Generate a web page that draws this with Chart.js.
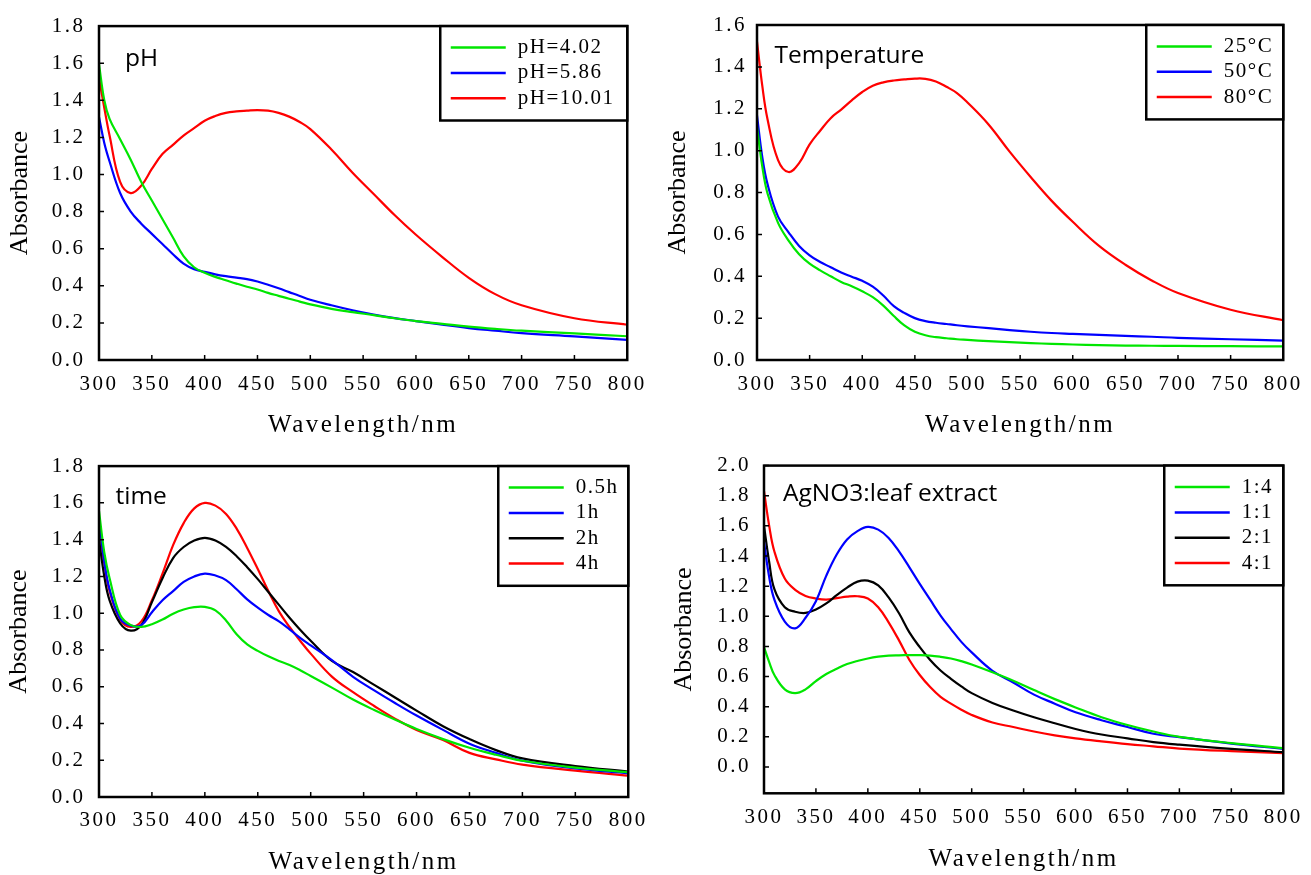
<!DOCTYPE html>
<html>
<head>
<meta charset="utf-8">
<script src="https://cdn.jsdelivr.net/npm/chart.js@4.4.1/dist/chart.umd.min.js"></script>
<style>
  html, body { margin: 0; padding: 0; background: #fff; }
  #wrap { position: relative; width: 1311px; height: 875px; overflow: hidden; background: #fff; }
  canvas { position: absolute; }
</style>
</head>
<body>
<div id="wrap">
  <canvas id="phChart" width="655" height="440" style="left:0px;top:0px"></canvas>
  <canvas id="tempChart" width="656" height="440" style="left:655px;top:0px"></canvas>
  <canvas id="timeChart" width="655" height="435" style="left:0px;top:440px"></canvas>
  <canvas id="ratioChart" width="656" height="435" style="left:655px;top:440px"></canvas>
</div>
<script>
// wavelength grid (nm) shared by every curve
const wavelengths = [300,305,310,320,330,340,350,360,370,380,390,400,410,420,430,440,450,460,470,480,490,500,520,540,560,580,600,625,650,675,700,750,800];

// tick labels
const xTicks = [300,350,400,450,500,550,600,650,700,750,800];
const yTicks18 = [0,0.2,0.4,0.6,0.8,1.0,1.2,1.4,1.6,1.8];
const yTicks16 = [0,0.2,0.4,0.6,0.8,1.0,1.2,1.4,1.6];
const yTicks20 = [0,0.2,0.4,0.6,0.8,1.0,1.2,1.4,1.6,1.8,2.0];

// pH panel
const phLabels = ['pH=4.02', 'pH=5.86', 'pH=10.01'];
const ph402  = [1.595,1.40,1.30,1.19,1.08,0.96,0.86,0.76,0.66,0.56,0.50,0.47,0.448,0.43,0.412,0.395,0.38,0.362,0.346,0.33,0.315,0.30,0.276,0.258,0.242,0.225,0.21,0.195,0.18,0.168,0.158,0.143,0.128];
const ph586  = [1.31,1.17,1.07,0.90,0.80,0.735,0.68,0.625,0.57,0.52,0.49,0.475,0.462,0.452,0.444,0.436,0.423,0.406,0.387,0.366,0.345,0.325,0.295,0.268,0.245,0.226,0.21,0.19,0.172,0.158,0.145,0.127,0.108];
const ph1001 = [1.52,1.36,1.21,0.96,0.90,0.94,1.03,1.11,1.16,1.21,1.25,1.29,1.315,1.332,1.34,1.344,1.347,1.344,1.332,1.312,1.283,1.245,1.135,1.01,0.895,0.78,0.675,0.555,0.443,0.355,0.295,0.225,0.19];

// temperature panel
const tempLabels = ['25\u00B0C', '50\u00B0C', '80\u00B0C'];
const t25 = [1.112,0.925,0.795,0.655,0.57,0.505,0.46,0.428,0.40,0.373,0.352,0.328,0.30,0.26,0.21,0.165,0.135,0.118,0.109,0.104,0.099,0.096,0.09,0.085,0.081,0.077,0.074,0.071,0.069,0.068,0.067,0.066,0.065];
const t50 = [1.168,0.97,0.84,0.685,0.61,0.545,0.50,0.468,0.443,0.418,0.398,0.378,0.35,0.308,0.257,0.225,0.2,0.186,0.178,0.172,0.166,0.161,0.152,0.143,0.135,0.129,0.125,0.12,0.115,0.111,0.106,0.099,0.093];
const t80 = [1.52,1.31,1.15,0.955,0.898,0.94,1.03,1.095,1.155,1.196,1.24,1.28,1.31,1.326,1.335,1.34,1.344,1.343,1.33,1.305,1.275,1.23,1.125,0.995,0.874,0.76,0.66,0.545,0.455,0.38,0.32,0.24,0.19];

// reaction time panel
const timeLabels = ['0.5h', '1h', '2h', '4h'];
const h05 = [1.556,1.33,1.19,0.99,0.935,0.925,0.94,0.965,0.997,1.02,1.033,1.034,1.015,0.96,0.885,0.83,0.795,0.765,0.74,0.718,0.69,0.658,0.595,0.53,0.473,0.42,0.37,0.315,0.268,0.23,0.197,0.16,0.134];
const h1  = [1.52,1.28,1.13,0.97,0.932,0.935,1.005,1.07,1.12,1.17,1.20,1.215,1.205,1.18,1.13,1.075,1.03,0.99,0.955,0.912,0.866,0.825,0.745,0.654,0.58,0.51,0.443,0.365,0.29,0.24,0.198,0.155,0.129];
const h2  = [1.40,1.20,1.07,0.945,0.905,0.935,1.06,1.19,1.30,1.36,1.395,1.41,1.395,1.36,1.31,1.25,1.185,1.115,1.045,0.975,0.91,0.85,0.74,0.68,0.61,0.54,0.47,0.385,0.315,0.255,0.21,0.168,0.138];
const h4  = [1.485,1.27,1.12,0.965,0.925,0.955,1.07,1.215,1.37,1.49,1.57,1.60,1.585,1.54,1.46,1.355,1.24,1.12,1.01,0.925,0.85,0.78,0.655,0.57,0.495,0.425,0.365,0.31,0.24,0.205,0.176,0.143,0.116];

// AgNO3 : leaf extract panel
const ratioLabels = ['1:4', '1:1', '2:1', '4:1'];
const r14 = [0.795,0.695,0.61,0.515,0.49,0.515,0.57,0.617,0.652,0.683,0.703,0.72,0.732,0.739,0.741,0.742,0.742,0.739,0.731,0.72,0.702,0.68,0.628,0.572,0.51,0.45,0.395,0.33,0.278,0.235,0.2,0.158,0.125];
const r11 = [1.493,1.26,1.11,0.965,0.92,0.99,1.10,1.27,1.41,1.51,1.565,1.593,1.575,1.52,1.43,1.325,1.215,1.11,1.005,0.915,0.83,0.76,0.638,0.56,0.48,0.42,0.363,0.31,0.265,0.22,0.198,0.155,0.12];
const r21 = [1.60,1.36,1.18,1.06,1.03,1.022,1.045,1.085,1.14,1.19,1.23,1.237,1.205,1.125,1.02,0.893,0.795,0.71,0.64,0.585,0.535,0.49,0.425,0.375,0.33,0.29,0.252,0.215,0.19,0.165,0.148,0.12,0.098];
const r41 = [1.83,1.60,1.43,1.25,1.175,1.135,1.118,1.111,1.12,1.13,1.133,1.118,1.06,0.96,0.84,0.71,0.61,0.53,0.465,0.42,0.38,0.345,0.295,0.265,0.235,0.21,0.19,0.17,0.152,0.137,0.122,0.105,0.092];

const GREEN = '#00e600', BLUE = '#0000ff', BLACK = '#000000', RED = '#ff0000';
const serif = 'Liberation Serif';

// frame, inward ticks, panel caption and boxed legend
const panelDecor = {
  id: 'panelDecor',
  beforeDraw(chart) {
    // the reference type is stretched sideways: space the letters a bit
    chart.ctx.letterSpacing = '2.5px';
  },
  afterDatasetsDraw(chart) {
    // y title is drawn after this point (grid z = 1), keep it unspaced
    chart.ctx.letterSpacing = '0px';
  },
  afterDraw(chart, args, opts) {
    const ctx = chart.ctx;
    const a = chart.chartArea;
    ctx.save();
    ctx.letterSpacing = '0px';
    ctx.strokeStyle = '#000';

    // tick marks pointing into the plot
    ctx.lineWidth = 1.5;
    ctx.beginPath();
    chart.scales.x.ticks.forEach(t => {
      const px = chart.scales.x.getPixelForValue(t.value);
      ctx.moveTo(px, a.bottom); ctx.lineTo(px, a.bottom - 5);
    });
    chart.scales.y.ticks.forEach(t => {
      if (t.value < 0) return;
      const py = chart.scales.y.getPixelForValue(t.value);
      ctx.moveTo(a.left, py); ctx.lineTo(a.left + 5, py);
    });
    ctx.stroke();

    // plot frame
    ctx.lineWidth = 2.5;
    ctx.strokeRect(a.left, a.top, a.right - a.left, a.bottom - a.top);

    // caption in the corner
    ctx.fillStyle = '#000';
    ctx.font = '24.5px "Open Sans"';
    ctx.textAlign = 'left';
    ctx.textBaseline = 'alphabetic';
    ctx.fillText(opts.title, a.left + opts.dx, a.top + opts.dy);

    // legend box
    const sets = chart.data.datasets;
    const w = opts.legendWidth;
    const h = 18.5 + sets.length * 25.3;
    const bx = a.right - w, by = a.top;
    ctx.fillStyle = '#fff';
    ctx.fillRect(bx, by, w, h);
    ctx.lineWidth = 2.5;
    ctx.strokeRect(bx, by, w, h);
    ctx.font = '21px "' + serif + '"';
    ctx.letterSpacing = '1.5px';
    ctx.textBaseline = 'middle';
    sets.forEach((ds, i) => {
      const ry = by + 21.5 + i * 25.3;
      ctx.strokeStyle = ds.borderColor;
      ctx.lineWidth = 2.5;
      ctx.beginPath();
      ctx.moveTo(bx + 10.5, ry); ctx.lineTo(bx + 65.5, ry);
      ctx.stroke();
      ctx.fillStyle = '#000';
      ctx.fillText(ds.label, bx + 77.5, ry);
    });
    ctx.restore();
  }
};

function makePanel(id, p) {
  return new Chart(document.getElementById(id), {
    type: 'line',
    data: {
      datasets: p.series.map((vals, i) => ({
        label: p.labels[i],
        data: wavelengths.map((w, k) => ({ x: w, y: vals[k] })),
        borderColor: p.colors[i],
        borderWidth: 2.2,
        pointRadius: 0,
        fill: false,
        tension: 0.4
      }))
    },
    options: {
      responsive: false,
      animation: false,
      devicePixelRatio: 1,
      layout: { padding: { top: p.padTop, right: p.padRight, left: 0, bottom: 0 } },
      plugins: {
        legend: { display: false },
        tooltip: { enabled: false },
        panelDecor: { title: p.title, dx: p.titleDx, dy: p.titleDy, legendWidth: p.legendWidth }
      },
      scales: {
        x: {
          type: 'linear',
          min: 300,
          max: 800,
          afterBuildTicks: s => { s.ticks = xTicks.map(v => ({ value: v })); },
          afterFit: s => { s.height = p.xHeight; },
          grid: { display: false, drawTicks: false },
          border: { display: false },
          ticks: { color: '#000', font: { family: serif, size: 21 }, padding: p.xPad, maxRotation: 0, autoSkip: false },
          title: {
            display: true, text: 'Wavelength/nm', color: '#000',
            font: { family: serif, size: 25, lineHeight: 1 },
            padding: { top: 0, bottom: p.xTitlePad }
          }
        },
        y: {
          type: 'linear',
          min: p.yMin,
          max: p.yMax,
          afterBuildTicks: s => { s.ticks = p.yTicks.map(v => ({ value: v })); },
          afterFit: s => { s.width = p.yWidth; },
          grid: { display: false, drawTicks: false, z: 1 },
          border: { display: false },
          ticks: {
            color: '#000', font: { family: serif, size: 21 }, padding: p.yPad, autoSkip: false,
            callback: v => v.toFixed(1)
          },
          title: {
            display: true, text: 'Absorbance', color: '#000',
            font: { family: serif, size: 26, lineHeight: 1 },
            padding: { top: p.yTitlePad, bottom: 0 }
          }
        }
      }
    },
    plugins: [panelDecor]
  });
}

makePanel('phChart', {
  series: [ph402, ph586, ph1001], labels: phLabels, colors: [GREEN, BLUE, RED],
  title: 'pH', titleDx: 26, titleDy: 40,
  legendWidth: 187,
  padTop: 23, padRight: 23, yWidth: 99, xHeight: 80,
  yMin: 0, yMax: 1.8, yTicks: yTicks18,
  xPad: 12, yPad: 13.5, xTitlePad: 2.5, yTitlePad: 7.5
});

makePanel('tempChart', {
  series: [t25, t50, t80], labels: tempLabels, colors: [GREEN, BLUE, RED],
  title: 'Temperature', titleDx: 17.5, titleDy: 37.7,
  legendWidth: 137,
  padTop: 25, padRight: 25, yWidth: 102, xHeight: 80,
  yMin: 0, yMax: 1.6, yTicks: yTicks16,
  xPad: 12, yPad: 10, xTitlePad: 2.5, yTitlePad: 10
});

makePanel('timeChart', {
  series: [h05, h1, h2, h4], labels: timeLabels, colors: [GREEN, BLUE, BLACK, RED],
  title: 'time', titleDx: 16.5, titleDy: 37.7,
  legendWidth: 130,
  padTop: 19, padRight: 23, yWidth: 99, xHeight: 78,
  yMin: 0, yMax: 1.8, yTicks: yTicks18,
  xPad: 11, yPad: 13.5, xTitlePad: 0, yTitlePad: 6.5
});

makePanel('ratioChart', {
  series: [r14, r11, r21, r41], labels: ratioLabels, colors: [GREEN, BLUE, BLACK, RED],
  title: 'AgNO3:leaf extract', titleDx: 19, titleDy: 35,
  legendWidth: 119,
  padTop: 21.7, padRight: 19, yWidth: 109, xHeight: 81.7,
  yMin: -0.175, yMax: 2.0, yTicks: yTicks20,
  xPad: 12, yPad: 13, xTitlePad: 3.5, yTitlePad: 16.5
});
</script>
</body>
</html>
